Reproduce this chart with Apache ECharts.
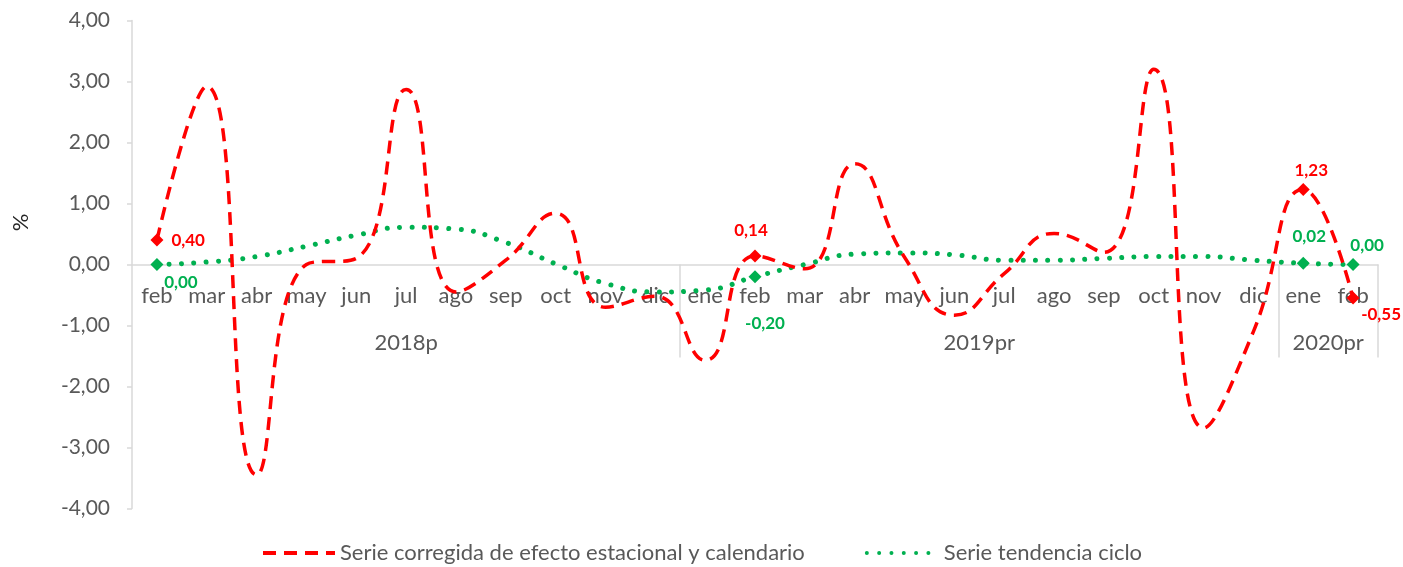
<!DOCTYPE html>
<html>
<head>
<meta charset="utf-8">
<script src="https://cdn.jsdelivr.net/npm/echarts@6/dist/echarts.min.js"></script>
<style>
  html, body { margin: 0; padding: 0; background: #fff; }
  #chart { width: 1403px; height: 567px; }
</style>
</head>
<body>
<div id="chart"></div>
<script>
// meses (feb 2018p ... feb 2020pr)
const months = ['feb', 'mar', 'abr', 'may', 'jun', 'jul', 'ago', 'sep', 'oct', 'nov', 'dic',
  'ene', 'feb', 'mar', 'abr', 'may', 'jun', 'jul', 'ago', 'sep', 'oct', 'nov', 'dic',
  'ene', 'feb'];
const groups = ['2018p', '2019pr', '2020pr'];
const groupSizes = [11, 12, 2];

// Serie corregida de efecto estacional y calendario
const corregida = [0.40, 2.92, -3.45, 0.00, 0.10, 2.87, -0.45, 0.07, 0.84, -0.70, -0.52,
  -1.57, 0.14, -0.07, 1.65, 0.12, -0.83, -0.15, 0.51, 0.20, 3.20, -2.68, -1.10,
  1.23, -0.55];
// Serie tendencia ciclo
const tendencia = [0.00, 0.04, 0.13, 0.30, 0.48, 0.61, 0.58, 0.36, 0.01, -0.31, -0.45,
  -0.42, -0.20, 0.00, 0.17, 0.19, 0.16, 0.07, 0.07, 0.10, 0.13, 0.13, 0.07,
  0.02, 0.00];

const RED = '#FF0000';
const GREEN = '#00B050';
const GREY = '#595959';
const FONT = 'Lato';

const fmt = v => v.toFixed(2).replace('.', ',');

// separadores y centros de cada año
const bounds = [];
const centers = [];
let acc = 0;
groupSizes.forEach(n => {
  centers.push(acc + n / 2);
  acc += n;
  bounds.push(acc);
});

// eje de categorías sobre el cero (grid bottom 508.5 -> cero 264.5)
const AXIS_SHIFT = -244;

const redLabels = {
  0: { position: 'right', distance: 8 },
  12: { position: 'top', distance: 10, offset: [-4, 0] },
  23: { position: 'top', distance: 4, offset: [8, 0] },
  24: { position: 'bottom', distance: 1, offset: [28, 0] }
};
const greenLabels = {
  0: { position: 'bottom', distance: 3, offset: [24, 0] },
  12: { position: 'bottom', distance: 32, offset: [10, 0] },
  23: { position: 'top', distance: 12, offset: [6, 0] },
  24: { position: 'top', distance: 4, offset: [14, 0] }
};

function mark(value, color, lbl) {
  return {
    value,
    symbol: 'diamond',
    symbolSize: 13,
    itemStyle: { color },
    label: Object.assign({
      show: true,
      color,
      fontFamily: FONT,
      fontWeight: 'bold',
      fontSize: 17,
      formatter: p => fmt(p.value)
    }, lbl)
  };
}

const options = {
  animation: false,
  textStyle: { fontFamily: FONT },
  grid: { left: 132, right: 25, top: 20.5, bottom: 58.5, outerBoundsMode: 'none' },
  legend: {
    left: 256,
    top: 537,
    itemWidth: 72,
    itemHeight: 14,
    itemGap: 60,
    itemStyle: { opacity: 0 },
    lineStyle: { width: 4 },
    textStyle: { color: GREY, fontSize: 22, fontFamily: FONT },
    data: ['Serie corregida de efecto estacional y calendario', 'Serie tendencia ciclo']
  },
  xAxis: [
    {
      type: 'category',
      data: months,
      position: 'bottom',
      offset: AXIS_SHIFT,
      axisLine: { onZero: false, lineStyle: { color: '#D9D9D9', width: 1.5 } },
      axisTick: { show: false },
      axisLabel: { color: GREY, fontSize: 22, fontFamily: FONT, margin: 20, interval: 0 }
    },
    {
      type: 'value',
      min: 0,
      max: 25,
      position: 'bottom',
      offset: AXIS_SHIFT,
      splitLine: { show: false },
      axisLine: { show: false, onZero: false },
      axisTick: {
        show: true,
        customValues: bounds,
        length: 93,
        lineStyle: { color: '#D9D9D9', width: 1.5 }
      },
      axisLabel: {
        customValues: centers,
        color: GREY,
        fontSize: 22,
        fontFamily: FONT,
        margin: 67,
        formatter: v => groups[centers.indexOf(v)] || ''
      }
    }
  ],
  yAxis: {
    type: 'value',
    min: -4,
    max: 4,
    interval: 1,
    name: '%',
    nameLocation: 'middle',
    nameRotate: 90,
    nameGap: 100,
    nameTextStyle: { color: '#262626', fontSize: 22, fontFamily: FONT, padding: [0, 0, 0, 84] },
    splitLine: { show: false },
    axisLine: { show: true, onZero: false, lineStyle: { color: '#D9D9D9', width: 1.5 } },
    axisTick: { show: true, length: 5, lineStyle: { color: '#D9D9D9', width: 1.5 } },
    axisLabel: { color: GREY, fontSize: 21, fontFamily: FONT, margin: 22, formatter: v => fmt(v) }
  },
  series: [
    {
      name: 'Serie corregida de efecto estacional y calendario',
      type: 'line',
      smooth: 0.5,
      symbol: 'none',
      color: RED,
      lineStyle: { color: RED, width: 3.5, type: [13, 8] },
      emphasis: { disabled: true },
      z: 3,
      data: corregida.map((v, i) => redLabels[i] ? mark(v, RED, redLabels[i]) : v)
    },
    {
      name: 'Serie tendencia ciclo',
      type: 'line',
      smooth: 0.5,
      symbol: 'none',
      color: GREEN,
      lineStyle: { color: GREEN, width: 5, type: [0.01, 12.3], cap: 'round' },
      emphasis: { disabled: true },
      z: 2,
      data: tendencia.map((v, i) => greenLabels[i] ? mark(v, GREEN, greenLabels[i]) : v)
    }
  ]
};

const myChart = echarts.init(document.getElementById('chart'));
myChart.setOption(options);
</script>
</body>
</html>
